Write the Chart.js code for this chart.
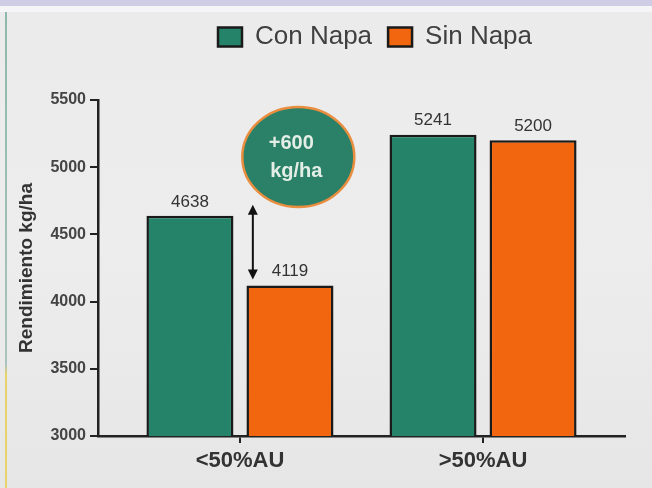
<!DOCTYPE html>
<html><head><meta charset="utf-8">
<script src="https://cdn.jsdelivr.net/npm/chart.js@4"></script>
<style>
html,body{margin:0;padding:0;width:652px;height:488px;overflow:hidden;background:#eaeaea;}
#bg{position:absolute;left:0;top:12px;width:652px;height:476px;background:linear-gradient(#ebebeb,#ededed 50%,#e6e6e6);}
#band{position:absolute;left:0;top:0;width:652px;height:6px;background:#cfcde6;}
#gap{position:absolute;left:0;top:6px;width:652px;height:6px;background:#f5f5f7;}
#lline{position:absolute;left:5px;top:12px;width:2px;height:476px;background:linear-gradient(#8fb8ad 0%,#a9c4bc 74%,#e4d36a 76%,#e6d56a 100%);}
#wrap{position:absolute;left:0;top:0;width:652px;height:488px;}
</style></head>
<body>
<div id="bg"></div><div id="band"></div><div id="gap"></div><div id="lline"></div>
<div id="wrap"><canvas id="c" width="652" height="488"></canvas></div>
<script>
const categories = ['<50%AU', '>50%AU'];
const seriesNames = ['Con Napa', 'Sin Napa'];
const conNapa = [4638, 5241];
const sinNapa = [4119, 5200];
const yTickValues = [3000, 3500, 4000, 4500, 5000, 5500];
const calloutLines = ['+600', 'kg/ha'];

const FONT = "'Liberation Sans', Arial, sans-serif";

const valueLabels = {
  id: 'valueLabels',
  afterDatasetsDraw(chart) {
    const ctx = chart.ctx;
    ctx.save();
    ctx.font = '17px ' + FONT;
    ctx.fillStyle = '#333';
    ctx.textAlign = 'center';
    ctx.textBaseline = 'middle';
    chart.data.datasets.forEach((ds, di) => {
      chart.getDatasetMeta(di).data.forEach((el, i) => {
        ctx.fillText(String(ds.data[i].y), el.x, el.y - 14);
      });
    });
    ctx.restore();
  }
};

const callout = {
  id: 'callout',
  afterDatasetsDraw(chart) {
    const ctx = chart.ctx;
    const xs = chart.scales.x, ys = chart.scales.y;
    const ax = xs.getPixelForValue(0.053);
    const top = ys.getPixelForValue(conNapa[0]) - 11;
    const bot = ys.getPixelForValue(sinNapa[0]) - 6;
    ctx.save();
    ctx.strokeStyle = '#111';
    ctx.fillStyle = '#111';
    ctx.lineWidth = 2;
    ctx.beginPath();
    ctx.moveTo(ax, top + 6);
    ctx.lineTo(ax, bot - 6);
    ctx.stroke();
    ctx.beginPath();
    ctx.moveTo(ax, top); ctx.lineTo(ax - 5, top + 10); ctx.lineTo(ax + 5, top + 10); ctx.closePath(); ctx.fill();
    ctx.beginPath();
    ctx.moveTo(ax, bot); ctx.lineTo(ax - 5, bot - 10); ctx.lineTo(ax + 5, bot - 10); ctx.closePath(); ctx.fill();
    const cx = xs.getPixelForValue(0.24);
    const cy = ys.getPixelForValue(5076);
    ctx.beginPath();
    ctx.ellipse(cx, cy, 56, 50, 0, 0, Math.PI * 2);
    ctx.fillStyle = '#2b8068';
    ctx.fill();
    ctx.lineWidth = 2.5;
    ctx.strokeStyle = '#e98d3e';
    ctx.stroke();
    ctx.fillStyle = '#e4eee6';
    ctx.font = 'bold 20px ' + FONT;
    ctx.textAlign = 'center';
    ctx.textBaseline = 'middle';
    ctx.fillText(calloutLines[0], cx - 7, cy - 14);
    ctx.fillText(calloutLines[1], cx - 2, cy + 14);
    ctx.restore();
  }
};

const legendTweak = {
  id: 'legendTweak',
  beforeInit(chart) {
    const fit = chart.legend.fit;
    chart.legend.fit = function () { fit.bind(chart.legend)(); this.height = 92; };
  },
  afterLayout(chart) {
    const lg = chart.legend;
    const pad = 16;
    const start = (lg.left + pad + lg.right - lg.lineWidths[0]) / 2;
    const dx = 218 - start;
    lg.left += dx; lg.right += dx;
  }
};

new Chart(document.getElementById('c'), {
  type: 'bar',
  data: {
    datasets: [
      { label: seriesNames[0], data: conNapa.map((v, i) => ({x: i, y: v})),
        backgroundColor: '#25836a', borderColor: '#1a1a1a', borderWidth: 2.5, borderSkipped: false },
      { label: seriesNames[1], data: sinNapa.map((v, i) => ({x: i, y: v})),
        backgroundColor: '#f1660e', borderColor: '#1a1a1a', borderWidth: 2.5, borderSkipped: false }
    ]
  },
  options: {
    responsive: false,
    animation: false,
    devicePixelRatio: 1,
    categoryPercentage: 0.823,
    barPercentage: 0.87,
    layout: { padding: { top: 8, right: 27, left: 0, bottom: 0 } },
    plugins: {
      legend: {
        position: 'top',
        labels: { font: { family: FONT, size: 26 }, color: '#404040', boxWidth: 24, boxHeight: 19, padding: 16 }
      },
      tooltip: { enabled: false }
    },
    scales: {
      x: {
        type: 'linear',
        offset: false,
        min: -0.584, max: 1.584,
        afterBuildTicks(scale) { scale.ticks = categories.map((c, i) => ({ value: i })); },
        afterFit(scale) { scale.height = 52; },
        ticks: {
          callback: (v) => categories[v],
          font: { family: FONT, size: 22, weight: 'bold' }, color: '#333', padding: 5, maxRotation: 0
        },
        grid: { offset: false, drawOnChartArea: false, color: '#222', tickLength: 7, lineWidth: 2 },
        border: { display: true, color: '#222', width: 2.5 }
      },
      y: {
        min: 3000, max: 5500,
        afterBuildTicks(scale) { scale.ticks = yTickValues.map(v => ({ value: v })); },
        afterFit(scale) { scale.width = 98; },
        ticks: { callback: (v) => String(v), font: { family: FONT, size: 16, weight: 'bold' }, color: '#444', padding: 4 },
        grid: { drawOnChartArea: false, color: '#222', tickLength: 8, lineWidth: 2 },
        border: { display: true, color: '#222', width: 2.5 },
        title: { display: true, text: 'Rendimiento kg/ha', font: { family: FONT, size: 19, weight: 'bold' }, color: '#333', padding: { top: 15 } }
      }
    }
  },
  plugins: [legendTweak, valueLabels, callout]
});
</script>
</body></html>
